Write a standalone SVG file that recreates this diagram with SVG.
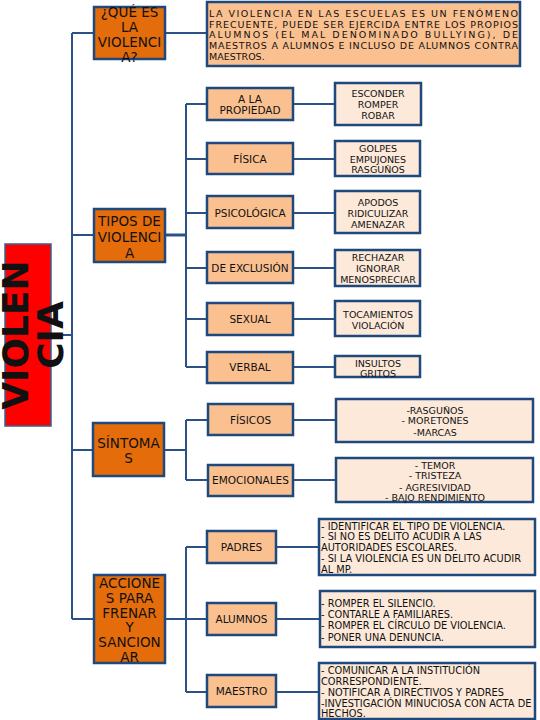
<svg xmlns="http://www.w3.org/2000/svg" width="540" height="720" viewBox="0 0 540 720">
<style>
text{font-family:"DejaVu Sans","Verdana",sans-serif;fill:#111}
.l1 rect{fill:#E46C0A;stroke:#1F497D;stroke-width:2.5}
.l1 text{font-size:13.5px;text-anchor:middle}
.l2 rect{fill:#FAC090;stroke:#1F497D;stroke-width:2.5}
.l2 text{font-size:10.5px;text-anchor:middle}
.d rect{fill:#FDE9D9;stroke:#1F497D;stroke-width:2.5}
.d text{font-size:9.5px;text-anchor:middle}
.d text.L{text-anchor:start;font-size:9.8px}
.top rect{fill:#FAC090;stroke:#1F497D;stroke-width:2.5}
.top text{font-size:9.5px}
#connectors path{fill:none;stroke:#2B5286;stroke-width:2}
</style>
<g id="connectors">
<path d="M51 335H72M72 33V619M72 33H94M72 235H94M72 450H94M72 619H94"/>
<path d="M165 33H207"/>
<path d="M165 235H186" style="stroke-width:3"/>
<path d="M186 104V367M186 104H207M186 159H207M186 213H207M186 268H207M186 319H207M186 367H207"/>
<path d="M293 104H335M293 159H335M293 213H335M293 268H335M293 319H335M293 367H335"/>
<path d="M164 450H186M186 420V480M186 420H208M186 480H208M293 420H336M293 480H336"/>
<path d="M165 619H186M186 547V692M186 547H207M186 619H207M186 692H207M276 547H319M276 619H320M276 692H319"/>
</g>
<g id="main">
<rect x="5" y="244" width="46" height="182" fill="#FF0000" stroke="#3A5F8F" stroke-width="1.5"/>
<text transform="translate(27.5,335) rotate(-90)" text-anchor="middle" font-size="36" font-weight="bold">VIOLEN</text>
<text transform="translate(63,335) rotate(-90)" text-anchor="middle" font-size="36" font-weight="bold">CIA</text>
</g>
<g id="que" class="l1">
<rect x="94" y="7" width="71" height="52"/>
<text x="129.5" y="17">¿QUÉ ES</text>
<text x="129.5" y="32">LA</text>
<text x="129.5" y="47">VIOLENCI</text>
<text x="129.5" y="62">A?</text>
</g>
<g id="que-def" class="top">
<rect x="207" y="2" width="313" height="64"/>
<text x="209" y="17" textLength="309" lengthAdjust="spacing">LA VIOLENCIA EN LAS ESCUELAS ES UN FENÓMENO</text>
<text x="209" y="27.5" textLength="309" lengthAdjust="spacing">FRECUENTE, PUEDE SER EJERCIDA ENTRE LOS PROPIOS</text>
<text x="209" y="38" textLength="309" lengthAdjust="spacing">ALUMNOS (EL MAL DENOMINADO BULLYING), DE</text>
<text x="209" y="48.7" textLength="309" lengthAdjust="spacing">MAESTROS A ALUMNOS E INCLUSO DE ALUMNOS CONTRA</text>
<text x="209" y="59.5">MAESTROS.</text>
</g>
<g id="tipos" class="l1">
<rect x="94" y="209" width="71" height="53"/>
<text x="129.5" y="226">TIPOS DE</text>
<text x="129.5" y="242">VIOLENCI</text>
<text x="129.5" y="258">A</text>
</g>
<g id="propiedad" class="l2">
<rect x="207" y="88" width="86" height="32"/>
<text x="250" y="102.8">A LA</text>
<text x="250" y="113.8">PROPIEDAD</text>
</g>
<g id="propiedad-d" class="d">
<rect x="335" y="83" width="86" height="42"/>
<text x="378" y="96.5">ESCONDER</text>
<text x="378" y="107.5">ROMPER</text>
<text x="378" y="118.5">ROBAR</text>
</g>
<g id="fisica" class="l2">
<rect x="207" y="143" width="86" height="31"/>
<text x="250" y="162.5">FÍSICA</text>
</g>
<g id="fisica-d" class="d">
<rect x="335" y="141" width="85" height="35"/>
<text x="378" y="151.5">GOLPES</text>
<text x="378" y="162.5">EMPUJONES</text>
<text x="378" y="172.5">RASGUÑOS</text>
</g>
<g id="psico" class="l2">
<rect x="207" y="196" width="86" height="32"/>
<text x="250" y="216.5">PSICOLÓGICA</text>
</g>
<g id="psico-d" class="d">
<rect x="335" y="191" width="85" height="42"/>
<text x="378" y="205.5">APODOS</text>
<text x="378" y="216.5">RIDICULIZAR</text>
<text x="378" y="227.5">AMENAZAR</text>
</g>
<g id="exclusion" class="l2">
<rect x="207" y="252" width="86" height="31"/>
<text x="250" y="271.5">DE EXCLUSIÓN</text>
</g>
<g id="exclusion-d" class="d">
<rect x="335" y="250" width="85" height="36"/>
<text x="378" y="260.5">RECHAZAR</text>
<text x="378" y="271.5">IGNORAR</text>
<text x="378" y="282.5">MENOSPRECIAR</text>
</g>
<g id="sexual" class="l2">
<rect x="207" y="303" width="86" height="32"/>
<text x="250" y="323">SEXUAL</text>
</g>
<g id="sexual-d" class="d">
<rect x="335" y="301" width="85" height="35"/>
<text x="378" y="317.5">TOCAMIENTOS</text>
<text x="378" y="328.5">VIOLACIÓN</text>
</g>
<g id="verbal" class="l2">
<rect x="207" y="352" width="86" height="31"/>
<text x="250" y="371">VERBAL</text>
</g>
<g id="verbal-d" class="d">
<rect x="335" y="356" width="85" height="21"/>
<text x="378" y="366.5">INSULTOS</text>
<text x="378" y="376.5">GRITOS</text>
</g>
<g id="sintomas" class="l1">
<rect x="93" y="423" width="71" height="53"/>
<text x="128.5" y="448">SÍNTOMA</text>
<text x="128.5" y="463">S</text>
</g>
<g id="fisicos" class="l2">
<rect x="208" y="404" width="85" height="31"/>
<text x="250.5" y="423.5">FÍSICOS</text>
</g>
<g id="fisicos-d" class="d">
<rect x="336" y="399" width="197" height="43"/>
<text x="435" y="413.5">-RASGUÑOS</text>
<text x="435" y="423.5">- MORETONES</text>
<text x="435" y="435.5">-MARCAS</text>
</g>
<g id="emocionales" class="l2">
<rect x="208" y="465" width="85" height="31"/>
<text x="250.5" y="484">EMOCIONALES</text>
</g>
<g id="emocionales-d" class="d">
<rect x="336" y="458" width="197" height="44"/>
<text x="435" y="468.5">- TEMOR</text>
<text x="435" y="478.5">- TRISTEZA</text>
<text x="435" y="490.5">- AGRESIVIDAD</text>
<text x="435" y="500.5">- BAJO RENDIMIENTO</text>
</g>
<g id="acciones" class="l1">
<rect x="94" y="575" width="71" height="88"/>
<text x="129.5" y="588">ACCIONE</text>
<text x="129.5" y="602.8">S PARA</text>
<text x="129.5" y="617.6">FRENAR</text>
<text x="129.5" y="632.4">Y</text>
<text x="129.5" y="647.2">SANCION</text>
<text x="129.5" y="662">AR</text>
</g>
<g id="padres" class="l2">
<rect x="207" y="531" width="69" height="32"/>
<text x="241.5" y="551">PADRES</text>
</g>
<g id="padres-d" class="d">
<rect x="319" y="519" width="216" height="56"/>
<text class="L" x="321" y="529.5">- IDENTIFICAR EL TIPO DE VIOLENCIA.</text>
<text class="L" x="321" y="540">- SI NO ES DELITO ACUDIR A LAS</text>
<text class="L" x="321" y="551">AUTORIDADES ESCOLARES.</text>
<text class="L" x="321" y="561.5">- SI LA VIOLENCIA ES UN DELITO  ACUDIR</text>
<text class="L" x="321" y="572.5">AL MP.</text>
</g>
<g id="alumnos" class="l2">
<rect x="207" y="603" width="69" height="32"/>
<text x="241.5" y="623">ALUMNOS</text>
</g>
<g id="alumnos-d" class="d">
<rect x="320" y="591" width="215" height="56"/>
<text class="L" x="321" y="606.5">- ROMPER EL SILENCIO.</text>
<text class="L" x="321" y="617.5">- CONTARLE A FAMILIARES.</text>
<text class="L" x="321" y="629">- ROMPER EL CÍRCULO DE VIOLENCIA.</text>
<text class="L" x="321" y="640.5">- PONER UNA DENUNCIA.</text>
</g>
<g id="maestro" class="l2">
<rect x="207" y="675" width="69" height="32"/>
<text x="241.5" y="695">MAESTRO</text>
</g>
<g id="maestro-d" class="d">
<rect x="319" y="663" width="216" height="56"/>
<text class="L" x="321" y="673.5">- COMUNICAR A LA INSTITUCIÓN</text>
<text class="L" x="321" y="684.5">CORRESPONDIENTE.</text>
<text class="L" x="321" y="695.5">- NOTIFICAR A DIRECTIVOS Y PADRES</text>
<text class="L" x="321" y="706.5">-INVESTIGACIÓN MINUCIOSA CON ACTA DE</text>
<text class="L" x="321" y="717">HECHOS.</text>
</g>
</svg>
